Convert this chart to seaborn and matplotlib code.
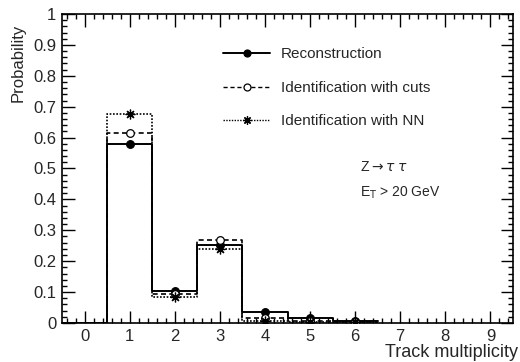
import numpy as np
import pandas as pd
import matplotlib
matplotlib.use("Agg")
import matplotlib.pyplot as plt
from matplotlib.ticker import MultipleLocator
from matplotlib.lines import Line2D
import seaborn as sns

# track multiplicity bins and probabilities
multiplicity = [0, 1, 2, 3, 4, 5, 6]
reco = [0.0, 0.58, 0.104, 0.252, 0.035, 0.015, 0.006]
cuts = [0.0, 0.615, 0.095, 0.268, 0.015, 0.006, 0.003]
nn = [0.0, 0.675, 0.085, 0.238, 0.008, 0.003, 0.002]

labels = ["Reconstruction", "Identification with cuts", "Identification with NN"]
styles = {"Reconstruction": ("-", "o", "black", 1.4),
          "Identification with cuts": ((0, (3, 2)), "o", "white", 1.2),
          "Identification with NN": ((0, (1, 1)), (8, 2, 0), "black", 1.2)}

df = pd.DataFrame({"mult": multiplicity * 3,
                   "prob": reco + cuts + nn,
                   "sample": np.repeat(labels, len(multiplicity))})

sns.set_style("ticks")
plt.rcParams["font.family"] = ["Liberation Sans", "DejaVu Sans"]

fig = plt.figure(figsize=(5.2, 3.62), dpi=100)
ax = fig.add_axes([62 / 520, 1 - 323 / 362, 451 / 520, 309 / 362])

handles = []
for lab in labels:
    ls, mk, mfc, lw = styles[lab]
    sub = df[df["sample"] == lab]
    sns.histplot(data=sub, x="mult", weights="prob", discrete=True,
                 element="step", fill=False, color="black", linewidth=lw,
                 linestyle=ls, ax=ax)
    sub1 = sub[sub["mult"] > 0]
    ax.plot(sub1["mult"], sub1["prob"], ls="none", marker=mk, ms=5.5 if mk == "o" else 7,
            mfc=mfc, mec="black", mew=0.9, color="black", zorder=5)
    handles.append(Line2D([], [], color="black", linestyle=ls, lw=1.0 if lab != labels[0] else 1.4,
                          marker=mk, ms=5 if mk == "o" else 6, mfc=mfc, mec="black", mew=0.9))

ax.set_xlim(-0.5, 9.5)
ax.set_ylim(0, 1)
ax.xaxis.set_major_locator(MultipleLocator(1))
ax.xaxis.set_minor_locator(MultipleLocator(0.2))
ax.yaxis.set_major_locator(MultipleLocator(0.1))
ax.yaxis.set_minor_locator(MultipleLocator(0.02))
ax.yaxis.set_major_formatter(matplotlib.ticker.FuncFormatter(lambda v, p: f"{v:g}"))
ax.tick_params(which="both", direction="in", top=True, right=True, labelsize=12, width=1, color="black")
ax.tick_params(which="major", length=9, pad=4)
ax.tick_params(which="minor", length=3.5)
for s in ax.spines.values():
    s.set_linewidth(1.2)
    s.set_color("black")

ax.set_xlabel("Track multiplicity", fontsize=13, ha="right")
ax.xaxis.set_label_coords(1.01, -0.095)
ax.xaxis.label.set_va("center")
ax.set_ylabel("Probability", fontsize=12, ha="right")
ax.yaxis.set_label_coords(-0.098, 0.97)
ax.yaxis.label.set_va("center")

ax.legend(handles, labels, loc="upper left", bbox_to_anchor=(0.357, 0.892),
          frameon=False, fontsize=11, handlelength=3.1, handletextpad=0.7,
          labelspacing=1.28, borderpad=0, borderaxespad=0)

ax.text(0.66, 0.506, r"Z$\rightarrow\tau\;\tau$", transform=ax.transAxes,
        fontsize=10, va="center", ha="left")
ax.text(0.66, 0.42, r"E$_{\mathrm{T}}$ > 20 GeV", transform=ax.transAxes,
        fontsize=10, va="center", ha="left")

fig.savefig("out.png", dpi=100)
